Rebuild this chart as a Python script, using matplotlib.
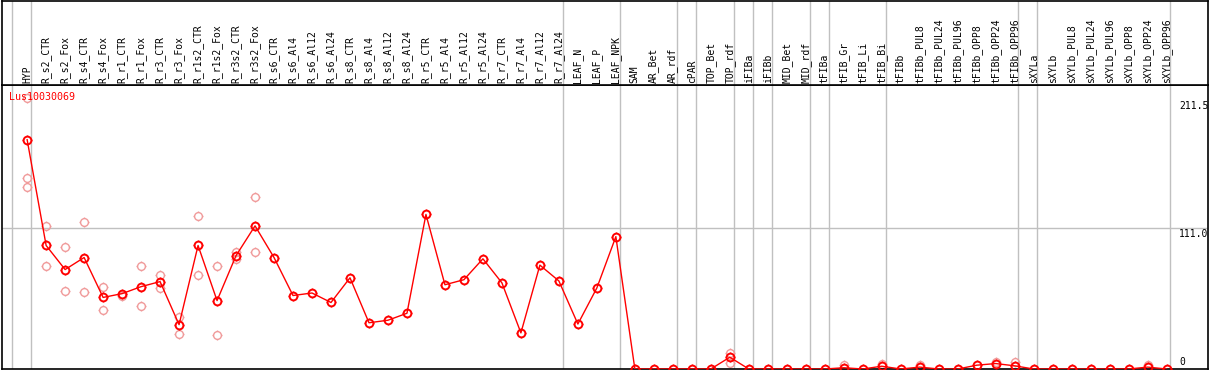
import numpy as np
import matplotlib
matplotlib.use("Agg")
import matplotlib.pyplot as plt
from matplotlib.path import Path

# column labels (header)
labels = ["HYP",
          "R_s2_CTR", "R_s2_Fox", "R_s4_CTR", "R_s4_Fox", "R_r1_CTR", "R_r1_Fox",
          "R_r3_CTR", "R_r3_Fox", "R_r1s2_CTR", "R_r1s2_Fox", "R_r3s2_CTR", "R_r3s2_Fox",
          "R_s6_CTR", "R_s6_Al4", "R_s6_Al12", "R_s6_Al24",
          "R_s8_CTR", "R_s8_Al4", "R_s8_Al12", "R_s8_Al24",
          "R_r5_CTR", "R_r5_Al4", "R_r5_Al12", "R_r5_Al24",
          "R_r7_CTR", "R_r7_Al4", "R_r7_Al12", "R_r7_Al24",
          "LEAF_N", "LEAF_P", "LEAF_NPK",
          "SAM", "AR_Bet", "AR_rdf", "cPAR", "TOP_Bet", "TOP_rdf",
          "iFIBa", "iFIBb", "MID_Bet", "MID_rdf", "tFIBa",
          "tFIB_Gr", "tFIB_Li", "tFIB_Bi", "tFIBb",
          "tFIBb_PUL8", "tFIBb_PUL24", "tFIBb_PUL96",
          "tFIBb_OPP8", "tFIBb_OPP24", "tFIBb_OPP96",
          "sXYLa", "sXYLb",
          "sXYLb_PUL8", "sXYLb_PUL24", "sXYLb_PUL96",
          "sXYLb_OPP8", "sXYLb_OPP24", "sXYLb_OPP96"]

# mean expression per column
mean_vals = [181,
             97.5, 78.5, 88, 56.5, 59.5, 65, 69, 35, 97.5, 54, 89.5, 113,
             88, 58, 60, 52.5,
             72, 36.5, 38.5, 44,
             122, 66.5, 70.5, 87,
             68, 28.5, 82, 69.5,
             35.5, 64, 104.5,
             0, 0, 0, 0, 0, 9.3,
             0, 0, 0, 0, 0,
             1, 0, 2.2, 0,
             1.5, 0, 0,
             3, 4.3, 2.5,
             0, 0,
             0, 0, 0,
             0, 1.5, 0]

# individual replicates (column index, value)
rep_idx = [0, 0, 0, 1, 1, 2, 2, 3, 3, 4, 4, 5, 6, 6, 7, 7, 8, 8,
           9, 9, 10, 10, 11, 11, 12, 12, 37, 37, 43, 45, 47, 51, 52, 59]
rep_val = [214, 150.5, 144, 113, 81, 96, 61.5, 116, 61, 65, 46.5, 57.5, 81, 49.5,
           74.5, 64, 41, 27.5, 121, 74.5, 81, 27, 92.5, 87, 135.5, 92,
           12.5, 5, 3, 3.6, 3, 5.9, 5.3, 3.5]

# group separators (after these column indices)
sep_after = [-1, 0, 28, 31, 34, 35, 37, 38, 39, 41, 42, 45, 52, 53, 60]

gene = "Lus10030069"
y_max = 211.5
y_mid = 111.0

x = np.arange(len(labels))
xlim = (-1.35, 62.18)
ylim = (0, y_max * 1.06)

# four little ticks sticking out of the circle marker
tick = 1.4
ticks = Path([[0, 1], [0, tick], [0, -1], [0, -tick],
              [1, 0], [tick, 0], [-1, 0], [-tick, 0]],
             [Path.MOVETO, Path.LINETO] * 4)
circ_ms = 5.6


def markers(xs, ys, color, lw, z):
    ax.plot(xs, ys, linestyle="none", marker="o", markersize=circ_ms,
            markerfacecolor="none", markeredgecolor=color, markeredgewidth=lw,
            zorder=z)
    ax.plot(xs, ys, linestyle="none", marker=ticks, markersize=circ_ms * tick,
            markerfacecolor="none", markeredgecolor=color, markeredgewidth=1.0,
            zorder=z)


W, H = 1209, 370
fig = plt.figure(figsize=(W / 100, H / 100), dpi=100)
ax = fig.add_axes([1.5 / W, 1 / H, (1208 - 1.5) / W, (369 - 85) / H])
axh = fig.add_axes([1.5 / W, (H - 85) / H, (1208 - 1.5) / W, 84.5 / H])

mono = "DejaVu Sans Mono"

for a in (ax, axh):
    a.set_xlim(*xlim)
    a.set_xticks([])
    a.set_yticks([])
    for s in a.spines.values():
        s.set_linewidth(1.2)
        s.set_color("black")
    for i in sep_after:
        a.axvline(i + 0.2, color="#c0c0c0", lw=1, zorder=0)

ax.set_ylim(*ylim)
axh.set_ylim(0, 1)

for i, lab in enumerate(labels):
    axh.text(i, 0.025, lab, rotation=90, ha="center", va="bottom",
             family=mono, fontsize=7)

ax.axhline(y_mid, color="#c0c0c0", lw=1, zorder=0)

markers(rep_idx, rep_val, "#f09a9a", 1.0, 2)
ax.plot(x, mean_vals, color="red", lw=1, zorder=3)
markers(x, mean_vals, "red", 1.4, 4)

ax.text(-0.98, 218.5, gene, color="red", family=mono, fontsize=7.2,
        ha="left", va="top", zorder=5)

xr = 60.65
ax.text(xr, y_max, f"{y_max:.1f}", family=mono, fontsize=7, ha="left", va="top")
ax.text(xr, y_mid - 0.5, f"{y_mid:.1f}", family=mono, fontsize=7, ha="left", va="top")
ax.text(xr, 1.5, "0", family=mono, fontsize=7, ha="left", va="bottom")

fig.savefig("out.png", dpi=100)
